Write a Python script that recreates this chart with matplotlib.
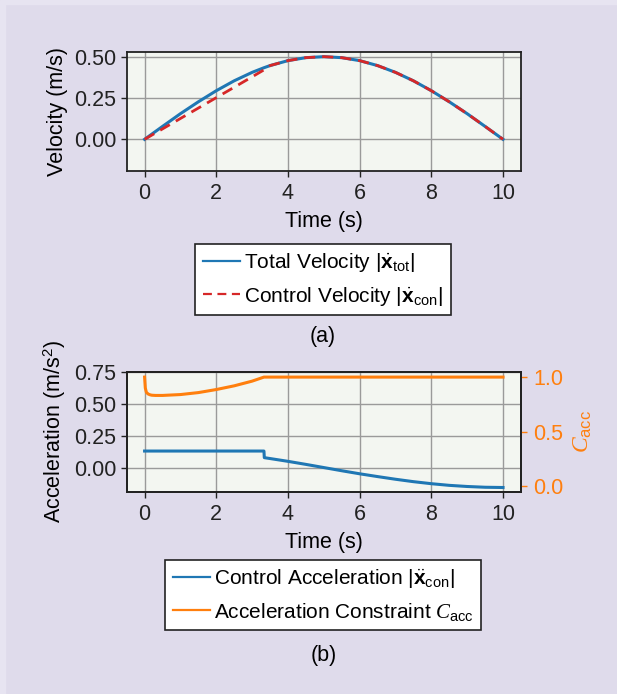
import matplotlib
matplotlib.use("Agg")
import matplotlib.pyplot as plt
from matplotlib.patches import Rectangle

plt.rcParams['font.family'] = ['Liberation Sans', 'DejaVu Sans']
plt.rcParams['mathtext.fontset'] = 'custom'
plt.rcParams['mathtext.rm'] = 'Liberation Sans'
plt.rcParams['mathtext.it'] = 'Liberation Serif:italic'
plt.rcParams['mathtext.bf'] = 'Liberation Sans:bold'
plt.rcParams['font.size'] = 15.5

# velocity panel data
t_vel = [0, 0.5, 1, 1.5, 2, 2.5, 3, 3.33, 3.5, 4, 4.5, 5, 5.5, 6, 6.5, 7, 7.5, 8, 8.5, 9, 9.5, 10]
v_tot = [0, 0.078, 0.155, 0.227, 0.294, 0.354, 0.405, 0.433, 0.446, 0.476, 0.494, 0.5,
         0.494, 0.476, 0.446, 0.405, 0.354, 0.294, 0.227, 0.155, 0.078, 0]
v_con = [0, 0.063, 0.126, 0.189, 0.252, 0.315, 0.378, 0.42, 0.446, 0.476, 0.494, 0.5,
         0.494, 0.476, 0.446, 0.405, 0.354, 0.294, 0.227, 0.155, 0.078, 0]

# acceleration panel data
t_acc = [0, 3.33, 3.34, 3.5, 4, 4.5, 5, 5.5, 6, 6.5, 7, 7.5, 8, 8.5, 9, 9.5, 10]
a_con = [0.13, 0.13, 0.078, 0.071, 0.049, 0.025, 0.0, -0.025, -0.049, -0.071, -0.092,
         -0.111, -0.127, -0.140, -0.149, -0.155, -0.157]
t_c = [0, 0.02, 0.05, 0.1, 0.15, 0.2, 0.3, 0.5, 1, 1.5, 2, 2.5, 3, 3.33, 10]
c_acc = [1.0, 0.9, 0.86, 0.845, 0.838, 0.834, 0.832, 0.832, 0.84, 0.858, 0.886, 0.92, 0.963, 1.0, 1.0]

x_ticks = [0, 2, 4, 6, 8, 10]

blue = '#1f77b4'
red = '#d62728'
orange = '#ff7f0e'
bg = '#dfdbeb'
axbg = '#f3f6f1'

fig = plt.figure(figsize=(6.17, 6.94), dpi=100, facecolor=bg)
fig.patches.append(Rectangle((0, 0.994), 1, 0.006, transform=fig.transFigure,
                             color='#e7e4f1', zorder=-1))
fig.patches.append(Rectangle((0, 0), 0.008, 1, transform=fig.transFigure,
                             color='#e7e4f1', zorder=-1))

def style(ax):
    ax.set_facecolor(axbg)
    ax.grid(True, color='#9a9a9a', lw=1.0)
    ax.set_axisbelow(True)
    for s in ax.spines.values():
        s.set_color('#222222')
        s.set_linewidth(1.3)
    ax.tick_params(colors='#222222', length=4, width=1)
    ax.tick_params(axis='x', pad=5)
    ax.set_xticks(x_ticks)
    ax.set_xlim(-0.5, 10.5)
    ax.set_xlabel('Time (s)', labelpad=5)

def boxed_legend(handles, x, y):
    leg = fig.legend(handles=handles, loc='upper center', bbox_to_anchor=(x, y),
                     fancybox=False, edgecolor='#222222', framealpha=1, handlelength=1.8,
                     handletextpad=0.2, labelspacing=0.5, borderpad=0.35,
                     borderaxespad=0, fontsize=15)
    leg.get_frame().set_linewidth(1.2)
    for h in leg.legend_handles:
        h.set_linewidth(1.6)
    return leg

# (a) velocity
ax1 = fig.add_axes([0.2053, 0.754, 0.639, 0.1715])
style(ax1)
l1, = ax1.plot(t_vel, v_tot, color=blue, lw=2.2, label=r'Total Velocity $|\dot{\mathbf{x}}_{\mathrm{tot}}|$')
l2, = ax1.plot(t_vel, v_con, color=red, lw=2.0, ls=(0, (4, 2.5)), label=r'Control Velocity $|\dot{\mathbf{x}}_{\mathrm{con}}|$')
ax1.set_ylim(-0.19, 0.53)
ax1.set_yticks([0, 0.25, 0.5])
ax1.set_yticklabels(['0.00', '0.25', '0.50'])
ax1.set_ylabel('Velocity (m/s)')

boxed_legend([l1, l2], 0.5235, 0.6484)
fig.text(0.5235, 0.5148, '(a)', ha='center', va='center')

# (b) acceleration
ax2 = fig.add_axes([0.2053, 0.2915, 0.639, 0.173])
style(ax2)
l3, = ax2.plot(t_acc, a_con, color=blue, lw=2.2, label=r'Control Acceleration $|\ddot{\mathbf{x}}_{\mathrm{con}}|$')
ax2.set_ylim(-0.19, 0.755)
ax2.set_yticks([0, 0.25, 0.5, 0.75])
ax2.set_yticklabels(['0.00', '0.25', '0.50', '0.75'])
ax2.set_ylabel('Acceleration (m/s$^2$)')

ax3 = ax2.twinx()
l4, = ax3.plot(t_c, c_acc, color=orange, lw=2.2, label=r'Acceleration Constraint $C_{\mathrm{acc}}$')
ax3.set_ylim(-0.05, 1.05)
ax3.set_yticks([0, 0.5, 1.0])
ax3.set_yticklabels(['0.0', '0.5', '1.0'])
ax3.tick_params(axis='y', colors=orange, length=4, width=1, pad=5)
for s in ax3.spines.values():
    s.set_color('#222222')
    s.set_linewidth(1.3)
ax3.set_ylabel(r'$C_{\mathrm{acc}}$', color=orange, fontsize=17, labelpad=6)

boxed_legend([l3, l4], 0.524, 0.193)
fig.text(0.524, 0.056, '(b)', ha='center', va='center')

fig.savefig('out.png', dpi=100, facecolor=bg)
